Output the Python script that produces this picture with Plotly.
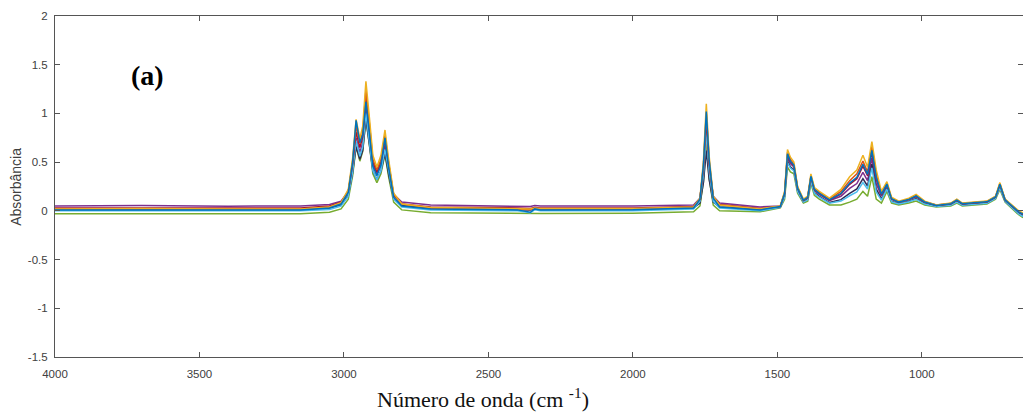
import plotly.graph_objects as go

wavenumber = [4000, 3700, 3400, 3150, 3050, 3010, 2985, 2970, 2958, 2945, 2935, 2924, 2912, 2900,
              2886, 2872, 2858, 2845, 2828, 2800, 2700, 2400, 2355, 2340, 2320, 2000, 1790, 1768,
              1756, 1746, 1736, 1722, 1700, 1560, 1490, 1475, 1465, 1455, 1443, 1430, 1410, 1395,
              1384, 1372, 1355, 1320, 1280, 1250, 1225, 1204, 1188, 1173, 1158, 1140, 1121, 1105,
              1080, 1045, 1020, 990, 950, 900, 879, 860, 820, 775, 745, 730, 712, 690, 665, 650]

s_yellow = [0.02, 0.025, 0.02, 0.02, 0.04, 0.085, 0.22, 0.54, 0.94, 0.74, 0.87, 1.33, 0.96, 0.57,
            0.45, 0.57, 0.83, 0.52, 0.18, 0.07, 0.035, 0.025, 0.02, 0.03, 0.025, 0.025, 0.04, 0.13,
            0.51, 1.10, 0.56, 0.15, 0.06, 0.02, 0.05, 0.2, 0.63, 0.55, 0.5, 0.25, 0.12, 0.15,
            0.38, 0.24, 0.2, 0.13, 0.22, 0.35, 0.42, 0.57, 0.45, 0.71, 0.42, 0.2, 0.30, 0.14,
            0.1, 0.13, 0.17, 0.1, 0.06, 0.08, 0.12, 0.08, 0.09, 0.1, 0.15, 0.29, 0.12, 0.06, 0.0, -0.02]

s_orange = [0.02, 0.018, 0.022, 0.02, 0.04, 0.08, 0.20, 0.51, 0.87, 0.69, 0.81, 1.24, 0.90, 0.53,
            0.42, 0.53, 0.78, 0.48, 0.17, 0.07, 0.03, 0.02, 0.015, 0.025, 0.02, 0.02, 0.04, 0.12,
            0.46, 1.0, 0.51, 0.14, 0.06, 0.02, 0.047, 0.19, 0.60, 0.53, 0.48, 0.24, 0.11, 0.14,
            0.36, 0.23, 0.19, 0.12, 0.20, 0.31, 0.38, 0.51, 0.40, 0.66, 0.38, 0.18, 0.285, 0.13,
            0.094, 0.12, 0.16, 0.094, 0.057, 0.075, 0.114, 0.075, 0.085, 0.095, 0.145, 0.28, 0.115, 0.055, -0.006, -0.027]

s_darkred = [0.03, 0.032, 0.03, 0.03, 0.05, 0.09, 0.20, 0.48, 0.81, 0.65, 0.76, 1.15, 0.84, 0.50,
             0.40, 0.50, 0.72, 0.46, 0.16, 0.07, 0.04, 0.03, 0.025, 0.035, 0.03, 0.03, 0.045, 0.12,
             0.44, 0.93, 0.48, 0.14, 0.065, 0.025, 0.044, 0.176, 0.576, 0.505, 0.464, 0.229, 0.108, 0.135,
             0.35, 0.216, 0.176, 0.109, 0.172, 0.272, 0.33, 0.459, 0.36, 0.602, 0.33, 0.164, 0.27, 0.122,
             0.088, 0.115, 0.149, 0.088, 0.054, 0.071, 0.108, 0.071, 0.081, 0.091, 0.141, 0.269, 0.111, 0.051, -0.012, -0.035]

s_purple = [0.05, 0.055, 0.048, 0.05, 0.065, 0.10, 0.20, 0.45, 0.75, 0.60, 0.70, 1.05, 0.77, 0.47,
            0.38, 0.47, 0.67, 0.43, 0.17, 0.09, 0.06, 0.05, 0.045, 0.055, 0.05, 0.05, 0.06, 0.13,
            0.42, 0.87, 0.46, 0.15, 0.08, 0.04, 0.05, 0.17, 0.55, 0.485, 0.45, 0.225, 0.11, 0.135,
            0.34, 0.21, 0.17, 0.105, 0.15, 0.23, 0.28, 0.395, 0.31, 0.54, 0.28, 0.15, 0.26, 0.12,
            0.09, 0.115, 0.145, 0.09, 0.06, 0.075, 0.11, 0.075, 0.085, 0.095, 0.145, 0.265, 0.115, 0.055, -0.01, -0.035]

s_green = [-0.03, -0.028, -0.032, -0.03, -0.015, 0.02, 0.12, 0.36, 0.66, 0.51, 0.61, 0.95, 0.68, 0.38,
           0.29, 0.38, 0.58, 0.34, 0.09, 0.01, -0.02, -0.028, -0.03, -0.025, -0.028, -0.025, -0.01, 0.05,
           0.3, 0.7, 0.33, 0.06, 0.0, -0.01, 0.03, 0.12, 0.45, 0.40, 0.38, 0.18, 0.08, 0.1,
           0.28, 0.16, 0.12, 0.06, 0.06, 0.09, 0.12, 0.2, 0.15, 0.35, 0.12, 0.08, 0.2, 0.08,
           0.06, 0.08, 0.1, 0.06, 0.04, 0.05, 0.08, 0.05, 0.06, 0.07, 0.12, 0.22, 0.09, 0.03, -0.04, -0.07]

s_lightblue = [0.0, 0.002, -0.002, 0.0, 0.015, 0.05, 0.15, 0.40, 0.72, 0.56, 0.66, 1.0, 0.71, 0.41,
               0.32, 0.41, 0.63, 0.39, 0.12, 0.04, 0.01, 0.0, -0.02, 0.01, 0.0, 0.002, 0.02, 0.1,
               0.37, 0.8, 0.4, 0.1, 0.03, 0.0, 0.035, 0.14, 0.495, 0.44, 0.41, 0.198, 0.09, 0.113,
               0.305, 0.18, 0.14, 0.078, 0.1, 0.155, 0.195, 0.29, 0.225, 0.44, 0.195, 0.11, 0.225, 0.095,
               0.07, 0.093, 0.118, 0.07, 0.045, 0.058, 0.09, 0.058, 0.068, 0.078, 0.128, 0.238, 0.098, 0.038, -0.03, -0.058]

s_navy = [0.015, 0.015, 0.017, 0.015, 0.03, 0.06, 0.16, 0.39, 0.66, 0.53, 0.62, 0.94, 0.68, 0.41,
          0.32, 0.41, 0.59, 0.37, 0.13, 0.055, 0.025, 0.015, 0.01, 0.02, 0.015, 0.015, 0.03, 0.08,
          0.29, 0.62, 0.32, 0.09, 0.04, 0.015, 0.037, 0.148, 0.513, 0.453, 0.42, 0.205, 0.094, 0.118,
          0.315, 0.188, 0.148, 0.085, 0.115, 0.18, 0.225, 0.33, 0.255, 0.48, 0.225, 0.122, 0.235, 0.1,
          0.074, 0.098, 0.125, 0.074, 0.047, 0.06, 0.094, 0.06, 0.071, 0.081, 0.131, 0.245, 0.101, 0.041, -0.026, -0.052]

s_blue = [0.01, 0.012, 0.008, 0.01, 0.03, 0.07, 0.19, 0.50, 0.93, 0.70, 0.78, 1.12, 0.80, 0.46,
          0.36, 0.47, 0.75, 0.44, 0.14, 0.05, 0.02, 0.01, -0.015, 0.02, 0.01, 0.012, 0.03, 0.12,
          0.47, 1.02, 0.52, 0.13, 0.04, 0.01, 0.045, 0.18, 0.585, 0.51, 0.47, 0.233, 0.11, 0.138,
          0.355, 0.22, 0.18, 0.113, 0.18, 0.285, 0.345, 0.478, 0.375, 0.62, 0.345, 0.17, 0.275, 0.125,
          0.09, 0.118, 0.153, 0.09, 0.055, 0.073, 0.11, 0.073, 0.083, 0.093, 0.143, 0.273, 0.113, 0.053, -0.01, -0.032]

series = [
    (s_purple, "#7E2F8E"),
    (s_green, "#77AC30"),
    (s_navy, "#2F2A55"),
    (s_lightblue, "#4DBEEE"),
    (s_darkred, "#A2142F"),
    (s_orange, "#D95319"),
    (s_yellow, "#EDB120"),
    (s_blue, "#0072BD"),
]

x_ticks = [4000, 3500, 3000, 2500, 2000, 1500, 1000]
y_ticks = [-1.5, -1, -0.5, 0, 0.5, 1, 1.5, 2]
y_tick_text = ["-1.5", "-1", "-0.5", "0", "0.5", "1", "1.5", "2"]

fig = go.Figure()
for vals, col in series:
    fig.add_trace(go.Scatter(x=wavenumber, y=vals, mode="lines",
                             line=dict(color=col, width=1.5), showlegend=False,
                             hoverinfo="skip"))

axis_common = dict(showline=True, linecolor="#555555", linewidth=1, mirror="ticks",
                   ticks="inside", ticklen=5, tickcolor="#555555", showgrid=False,
                   zeroline=False, tickfont=dict(family="Arial, Liberation Sans", size=11.5, color="#404040"))

fig.update_layout(
    width=1023, height=414,
    margin=dict(l=55, r=0, t=16, b=57),
    paper_bgcolor="white", plot_bgcolor="white",
    xaxis=dict(range=[4000, 650], tickvals=x_ticks, ticktext=[str(v) for v in x_ticks],
               ticklabelstandoff=6, **axis_common),
    yaxis=dict(range=[-1.5, 2], tickvals=y_ticks, ticktext=y_tick_text,
               ticklabelstandoff=4, **axis_common),
    annotations=[
        dict(text="Número de onda (cm <sup>-1</sup>)", xref="paper", yref="paper", x=0.442, y=-0.12,
             xanchor="center", yanchor="middle", showarrow=False,
             font=dict(family="Liberation Serif, Times New Roman", size=22, color="#111111")),
        dict(text="Absorbância", xref="paper", yref="paper", x=-0.041, y=0.5, textangle=-90,
             xanchor="center", yanchor="middle", showarrow=False,
             font=dict(family="Arial, Liberation Sans", size=14, color="#404040")),
        dict(text="<b>(a)</b>", xref="paper", yref="paper", x=0.096, y=0.825,
             xanchor="center", yanchor="middle", showarrow=False,
             font=dict(family="Liberation Serif, Times New Roman", size=28, color="#000000")),
    ],
)

fig.write_html("out.html")
